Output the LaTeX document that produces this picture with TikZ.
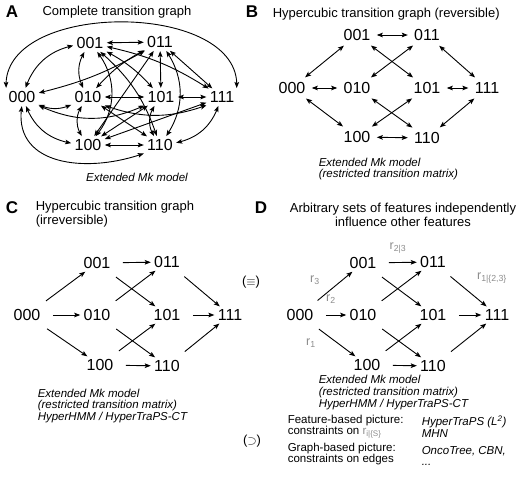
\documentclass[tikz,border=0pt]{standalone}
\usepackage{fontspec}
\setmainfont{Liberation Sans}
\usetikzlibrary{arrows.meta,bending}

\begin{document}
\begin{tikzpicture}[
  x=1pt,y=1pt,
  >={Stealth[length=6pt,width=4.6pt,inset=1.2pt]},
  line width=0.9pt,
  state node/.style={font=\fontsize{16}{18}\selectfont,inner sep=2pt},
  panel label/.style={font=\fontsize{17}{19}\selectfont\bfseries},
  title node/.style={font=\fontsize{13}{14}\selectfont},
  model note/.style={font=\fontsize{11.5}{11.8}\selectfont\itshape,anchor=west,align=left},
  plain note/.style={font=\fontsize{11.5}{11.8}\selectfont,anchor=west,align=left},
  rate label/.style={text=black!45,font=\fontsize{12.5}{13}\selectfont},
  both way/.style={<->,shorten <=1pt,shorten >=1pt},
  rev way/.style={<->,shorten <=4pt,shorten >=4pt},
  one way/.style={->,shorten <=10pt,shorten >=1pt},
]
\useasboundingbox (0,0) rectangle (520,-488);

% panel A
\node[panel label] (labA) at (12,-12) {A};
\node[title node] (titA) at (117,-12) {Complete transition graph};
\node[state node] (a000) at (22,-97) {000};
\node[state node] (a001) at (90,-43) {001};
\node[state node] (a011) at (160,-42) {011};
\node[state node] (a010) at (88,-97) {010};
\node[state node] (a101) at (161,-97) {101};
\node[state node] (a111) at (222,-97) {111};
\node[state node] (a100) at (88,-145) {100};
\node[state node] (a110) at (160,-145) {110};
\node[model note,anchor=center] (noteA) at (137,-177) {Extended Mk model};
\draw[both way] (a000) to[bend left=30] (a001);
\draw[both way] (a000) to[bend right=25] (a010);
\draw[both way] (a000) to[bend right=30] (a100);
\draw[both way] (a000) to[bend right=8] (a011);
\draw[both way] (a000.south east) to[out=-25,in=-155] (a101.south west);
\draw[both way] (a000.south) to[out=-100,in=-160,looseness=1.2] (a110.south west);
\draw[both way] (a000.north west) to[out=95,in=85,looseness=1.0] (a111.north east);
\draw[both way] (a001) -- (a011);
\draw[both way] (a001) to[bend right=30] (a010);
\draw[both way] (a001) to[bend left=40] (a100);
\draw[both way] (a001) to[bend left=10] (a101);
\draw[both way] (a001) to[bend left=15] (a110);
\draw[both way] (a001) to[bend left=10] (a111);
\draw[both way] (a011) to[bend right=10] (a010);
\draw[both way] (a011) -- (a101);
\draw[both way] (a011) -- (a111);
\draw[both way] (a011) -- (a100);
\draw[both way] (a011) to[bend left=35] (a110);
\draw[both way] (a010) -- (a101);
\draw[both way] (a010) to[bend right=35] (a100);
\draw[both way] (a010) -- (a110);
\draw[both way] (a010.south east) to[out=-20,in=-160] (a111.south west);
\draw[both way] (a101) -- (a111);
\draw[both way] (a101) -- (a100);
\draw[both way] (a101) to[bend right=35] (a110);
\draw[both way] (a100) -- (a110);
\draw[both way] (a100) -- (a111);
\draw[both way] (a110) to[bend right=30] (a111);

% panel B
\node[panel label] (labB) at (252,-12) {B};
\node[title node,anchor=west] (titB) at (269,-14) {Hypercubic transition graph (reversible)};
\node[state node] (b000) at (292,-88) {000};
\node[state node] (b001) at (357,-35) {001};
\node[state node] (b011) at (427,-35) {011};
\node[state node] (b010) at (357,-88) {010};
\node[state node] (b101) at (427,-88) {101};
\node[state node] (b111) at (487,-88) {111};
\node[state node] (b100) at (357,-137) {100};
\node[state node] (b110) at (427,-138) {110};
\node[model note] (noteB) at (315,-169) {Extended Mk model\\(restricted transition matrix)};
\draw[rev way] (b000) -- (b001);
\draw[rev way] (b000) -- (b010);
\draw[rev way] (b000) -- (b100);
\draw[rev way] (b001) -- (b011);
\draw[rev way] (b001) -- (b101);
\draw[rev way] (b010) -- (b011);
\draw[rev way] (b010) -- (b110);
\draw[rev way] (b100) -- (b101);
\draw[rev way] (b100) -- (b110);
\draw[rev way] (b011) -- (b111);
\draw[rev way] (b101) -- (b111);
\draw[rev way] (b110) -- (b111);

% panel C
\node[panel label] (labC) at (12,-208) {C};
\node[title node,anchor=west,align=left] (titC) at (32,-214.5) {Hypercubic transition graph\\(irreversible)};
\node[state node] (c000) at (27,-315) {000};
\node[state node] (c001) at (97,-263) {001};
\node[state node] (c011) at (167,-262) {011};
\node[state node] (c010) at (97,-315) {010};
\node[state node] (c101) at (167,-315) {101};
\node[state node] (c111) at (230,-315) {111};
\node[state node] (c100) at (100,-365) {100};
\node[state node] (c110) at (167,-366) {110};
\node[model note] (noteC) at (34,-406) {Extended Mk model\\(restricted transition matrix)\\HyperHMM / HyperTraPS-CT};
\draw[one way] (c000) -- (c001);
\draw[one way] (c000) -- (c010);
\draw[one way] (c000) -- (c100);
\draw[one way] (c001) -- (c011);
\draw[one way] (c001) -- (c101);
\draw[one way] (c010) -- (c011);
\draw[one way] (c010) -- (c110);
\draw[one way] (c100) -- (c101);
\draw[one way] (c100) -- (c110);
\draw[one way] (c011) -- (c111);
\draw[one way] (c101) -- (c111);
\draw[one way] (c110) -- (c111);

\node[title node] (same) at (251,-282) {($\equiv$)};

% panel D
\node[panel label] (labD) at (261,-208) {D};
\node[title node,align=center] (titD) at (403,-214.5) {Arbitrary sets of features independently\\influence other features};
\node[state node] (d000) at (300,-315) {000};
\node[state node] (d001) at (363,-263) {001};
\node[state node] (d011) at (433,-262) {011};
\node[state node] (d010) at (363,-315) {010};
\node[state node] (d101) at (433,-315) {101};
\node[state node] (d111) at (497,-315) {111};
\node[state node] (d100) at (367,-365) {100};
\node[state node] (d110) at (433,-366) {110};
\node[model note] (noteD) at (315,-392.5) {Extended Mk model\\(restricted transition matrix)\\HyperHMM / HyperTraPS-CT};
\draw[one way] (d000) -- (d001);
\draw[one way] (d000) -- (d010);
\draw[one way] (d000) -- (d100);
\draw[one way] (d001) -- (d011);
\draw[one way] (d001) -- (d101);
\draw[one way] (d010) -- (d011);
\draw[one way] (d010) -- (d110);
\draw[one way] (d100) -- (d101);
\draw[one way] (d100) -- (d110);
\draw[one way] (d011) -- (d111);
\draw[one way] (d101) -- (d111);
\draw[one way] (d110) -- (d111);
\node[rate label] (r3) at (315,-280) {r\textsubscript{3}};
\node[rate label] (r2) at (331,-299) {r\textsubscript{2}};
\node[rate label] (r1) at (311,-343) {r\textsubscript{1}};
\node[rate label] (r23) at (398,-248) {r\textsubscript{2|3}};
\node[rate label] (r123) at (492,-278) {r\textsubscript{1|\{2,3\}}};

\node[title node] (sup) at (252,-441) {($\supset$)};
\node[plain note] (featpic) at (284,-426.5) {Feature-based picture:\\constraints on \textcolor{black!45}{r\textsubscript{i|\{S\}}}};
\node[plain note] (graphpic) at (284,-454) {Graph-based picture:\\constraints on edges};
\node[model note] (featmod) at (418,-426.5) {HyperTraPS (L\textsuperscript{2})\\MHN};
\node[model note] (graphmod) at (418,-456) {OncoTree, CBN,\\...};
\end{tikzpicture}
\end{document}
